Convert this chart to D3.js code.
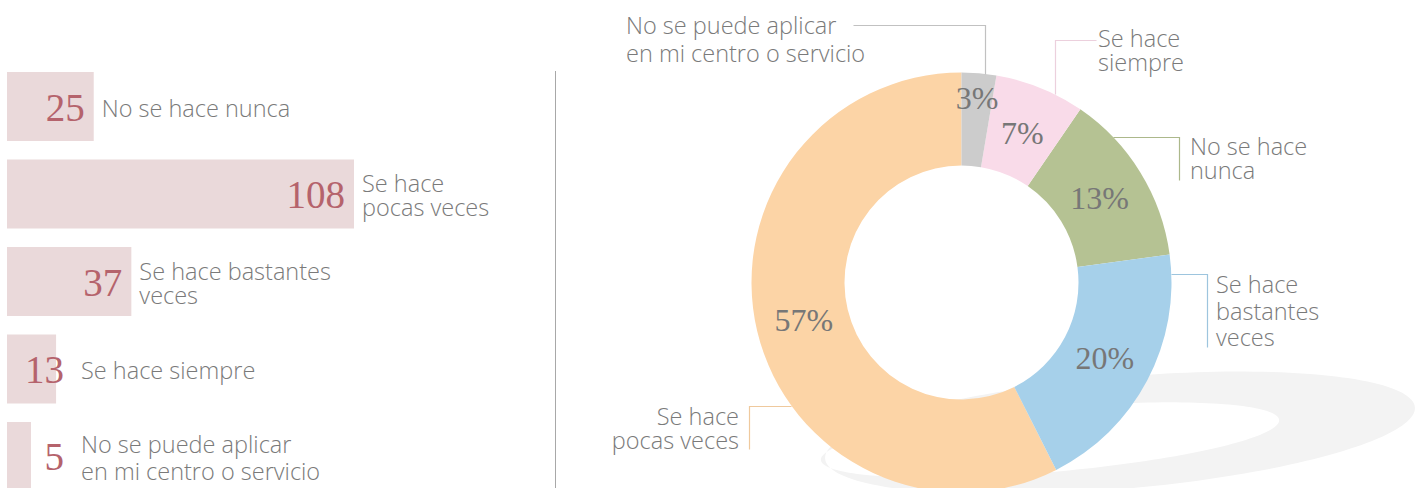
<!DOCTYPE html>
<html>
<head>
<meta charset="utf-8">
<script src="https://cdn.jsdelivr.net/npm/d3@7"></script>
<style>
  html, body { margin: 0; padding: 0; background: #fff; }
  svg { display: block; }
</style>
</head>
<body>
<svg id="chart" width="1425" height="488"></svg>
<script>
// ---- data ----
const categories = [
  "No se hace nunca",
  "Se hace pocas veces",
  "Se hace bastantes veces",
  "Se hace siempre",
  "No se puede aplicar en mi centro o servicio"
];
const values = [25, 108, 37, 13, 5];
const barLabelLines = [
  ["No se hace nunca"],
  ["Se hace", "pocas veces"],
  ["Se hace bastantes", "veces"],
  ["Se hace siempre"],
  ["No se puede aplicar", "en mi centro o servicio"]
];
const donutLabelLines = [
  ["No se hace", "nunca"],
  ["Se hace", "pocas veces"],
  ["Se hace", "bastantes", "veces"],
  ["Se hace", "siempre"],
  ["No se puede aplicar", "en mi centro o servicio"]
];
const sliceColors = ["#b5c293", "#fcd4a6", "#a6d0ea", "#f9dbe9", "#cccccc"];

// ---- layout (not data) ----
const calloutLayout = [
  { angle: 46.2, mode: "hv", e1: 1179, e2: 180, lx: 1190, ly: 155, anchor: "start", lh: 23.5 },
  { angle: 234.1, mode: "hv", e1: 749, e2: 449, lx: 739, ly: 425, anchor: "end", lh: 23.5 },
  { angle: 87.7, mode: "hv", e1: 1207, e2: 347, lx: 1216, ly: 293, anchor: "start", lh: 26.5 },
  { angle: 26.3, mode: "vh", e1: 40, e2: 1096, lx: 1098, ly: 47, anchor: "start", lh: 23.5 },
  { angle: 6.4, mode: "vh", e1: 25, e2: 853, lx: 626, ly: 34, anchor: "start", lh: 28 }
];

const svg = d3.select("#chart");
const labelFont = "'Open Sans', Lato, sans-serif";
const numFont = "'Liberation Serif', 'DejaVu Serif', serif";
const labelColor = "#7a7a7a";
const labelSize = 23.5;

const data = categories.map((c, i) => ({ cat: c, value: values[i], i }));

// ---- left: bars ----
const y = d3.scaleBand().domain(categories).range([72, 491]).paddingInner(0.2114).paddingOuter(0);
const x = d3.scaleLinear().domain([5, 108]).range([24, 347]);
const x0 = 7;

const bars = svg.append("g");
bars.selectAll("rect").data(data).join("rect")
  .attr("x", x0)
  .attr("y", d => y(d.cat))
  .attr("width", d => x(d.value))
  .attr("height", y.bandwidth())
  .attr("fill", "#ead9da");

data.forEach(d => {
  const cy = y(d.cat) + y.bandwidth() / 2;
  const end = x0 + x(d.value);
  const numRight = Math.max(end - 9, 64);
  bars.append("text")
    .attr("x", numRight)
    .attr("y", cy + 14)
    .attr("text-anchor", "end")
    .attr("font-family", numFont)
    .attr("font-size", 39)
    .attr("fill", "#b5636c")
    .text(d.value);
  const lines = barLabelLines[d.i];
  const lh = lines.length > 1 && d.i === 4 ? 27 : 24;
  const firstBase = cy + 10 - (lines.length - 1) * lh / 2;
  const t = bars.append("text")
    .attr("font-family", labelFont)
    .attr("font-weight", 300)
    .attr("font-size", labelSize)
    .attr("fill", labelColor);
  lines.forEach((ln, k) => {
    t.append("tspan").attr("x", numRight + 17).attr("y", firstBase + k * lh).text(ln);
  });
});

// ---- divider ----
svg.append("line")
  .attr("x1", 555.5).attr("x2", 555.5).attr("y1", 71).attr("y2", 488)
  .attr("stroke", "#a8a8a8").attr("stroke-width", 1);

// ---- shadow ----
const shadow = svg.append("g");
function ellipsePath(cx, cy, rx, ry, rotDeg) {
  const a = rotDeg * Math.PI / 180;
  const pts = d3.range(0, 361, 2).map(t => {
    const r = t * Math.PI / 180;
    const ex = rx * Math.cos(r), ey = ry * Math.sin(r);
    return [cx + ex * Math.cos(a) - ey * Math.sin(a), cy + ex * Math.sin(a) + ey * Math.cos(a)];
  });
  return d3.line()(pts) + "Z";
}
shadow.append("path")
  .attr("d", ellipsePath(1120, 433, 296, 56, -5) + ellipsePath(1050, 440, 230, 32, -5))
  .attr("fill", "#f3f3f3")
  .attr("fill-rule", "evenodd");

// ---- donut ----
const cx = 961.5, cy = 282.5, R = 210, r = 117;
const total = d3.sum(values);
const pie = d3.pie().value(d => d.value).sort((a, b) => a.value - b.value);
const arcs = pie(data);
const arc = d3.arc().innerRadius(r).outerRadius(R);
const g = svg.append("g").attr("transform", `translate(${cx},${cy})`);
g.selectAll("path").data(arcs).join("path")
  .attr("d", arc)
  .attr("fill", d => sliceColors[d.data.i]);

arcs.forEach(d => {
  const mid = (d.startAngle + d.endAngle) / 2;
  const lr = (d.endAngle - d.startAngle) < 0.2 ? 185 : 162;
  g.append("text")
    .attr("x", lr * Math.sin(mid))
    .attr("y", -lr * Math.cos(mid))
    .attr("dy", "0.35em")
    .attr("text-anchor", "middle")
    .attr("font-family", numFont)
    .attr("font-size", 32)
    .attr("fill", "#777777")
    .text(Math.round(d.data.value / total * 100) + "%");
});

// ---- callouts ----
data.forEach(d => {
  const L = calloutLayout[d.i];
  const a = L.angle * Math.PI / 180;
  const px = cx + R * Math.sin(a), py = cy - R * Math.cos(a);
  let pts;
  if (L.mode === "hv") pts = [[px, py], [L.e1, py], [L.e1, L.e2]];
  else pts = [[px, py], [px, L.e1], [L.e2, L.e1]];
  svg.append("path")
    .attr("d", d3.line()(pts.map(p => [Math.round(p[0]) + 0.5, Math.round(p[1]) + 0.5])))
    .attr("fill", "none")
    .attr("stroke", d3.color(sliceColors[d.i]).darker(0.15))
    .attr("stroke-width", 1.2);
  const t = svg.append("text")
    .attr("text-anchor", L.anchor)
    .attr("font-family", labelFont)
    .attr("font-weight", 300)
    .attr("font-size", labelSize)
    .attr("fill", labelColor);
  donutLabelLines[d.i].forEach((ln, k) => {
    t.append("tspan").attr("x", L.lx).attr("y", L.ly + k * L.lh).text(ln);
  });
});
</script>
</body>
</html>
